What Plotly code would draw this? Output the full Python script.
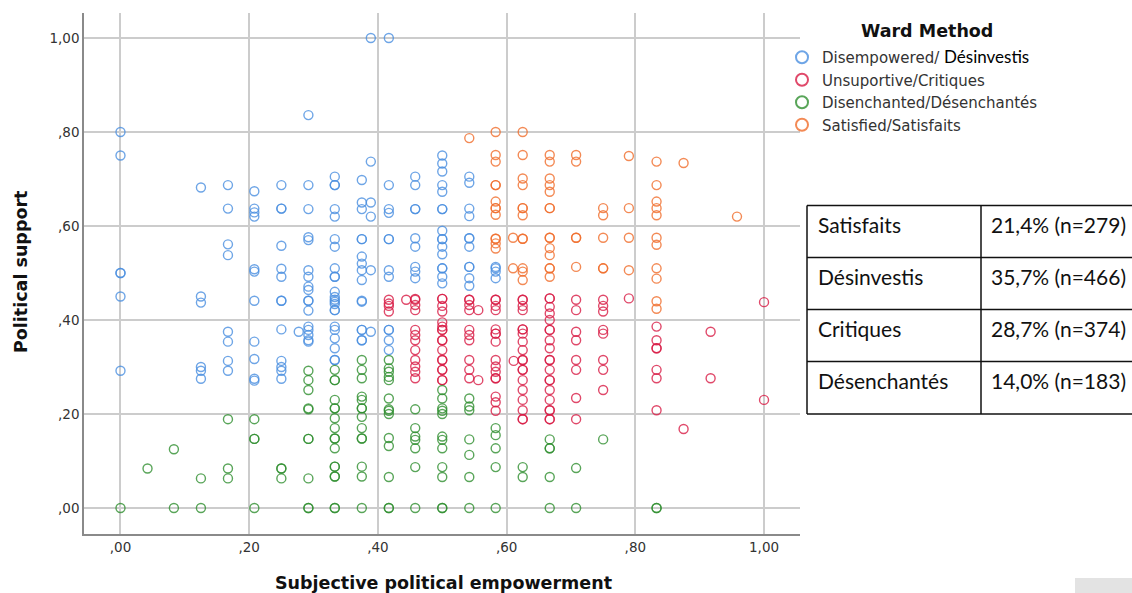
import plotly.graph_objects as go

# ---------------- data ----------------
cluster_names = ["Disempowered/ <span style=\"font-family:Lato;font-size:17px;color:#000\">Désinvestis</span>",
                 "Unsuportive/Critiques",
                 "Disenchanted/Désenchantés",
                 "Satisfied/Satisfaits"]
cluster_colors = ["#4a8fe0", "#d81b45", "#2f8f2f", "#f06d2a"]

blue_cols = [0.0, 0.125, 0.167, 0.208, 0.25, 0.277, 0.292, 0.333, 0.375, 0.389, 0.417, 0.458, 0.5, 0.542, 0.583]
blue_vals = [
    [0.80, 0.75, 0.50, 0.50, 0.45, 0.292],
    [0.682, 0.45, 0.437, 0.30, 0.292, 0.275],
    [0.687, 0.637, 0.561, 0.538, 0.375, 0.354, 0.313, 0.292],
    [0.674, 0.637, 0.629, 0.62, 0.508, 0.503, 0.441, 0.354, 0.317, 0.275, 0.271],
    [0.687, 0.637, 0.637, 0.558, 0.509, 0.492, 0.441, 0.441, 0.380, 0.313, 0.30, 0.292, 0.275],
    [0.375],
    [0.836, 0.687, 0.636, 0.576, 0.570, 0.506, 0.492, 0.471, 0.464, 0.441, 0.441, 0.42, 0.386, 0.379, 0.368, 0.357, 0.354],
    [0.705, 0.687, 0.687, 0.636, 0.620, 0.572, 0.556, 0.51, 0.492, 0.492, 0.46, 0.449, 0.443, 0.439, 0.434, 0.421,
     0.421, 0.386, 0.379, 0.361, 0.34, 0.315, 0.315],
    [0.698, 0.65, 0.636, 0.572, 0.572, 0.535, 0.52, 0.506, 0.485, 0.441, 0.439, 0.379, 0.379, 0.357, 0.357],
    [1.0, 0.737, 0.65, 0.62, 0.506, 0.375],
    [1.0, 0.687, 0.636, 0.628, 0.572, 0.572, 0.506, 0.492, 0.379, 0.379, 0.357, 0.336],
    [0.705, 0.687, 0.636, 0.636, 0.574, 0.556, 0.513, 0.503, 0.489],
    [0.75, 0.733, 0.716, 0.687, 0.673, 0.636, 0.636, 0.59, 0.572, 0.572, 0.556, 0.54, 0.51, 0.51, 0.492, 0.478],
    [0.705, 0.692, 0.637, 0.621, 0.574, 0.574, 0.556, 0.513, 0.513, 0.489, 0.473],
    [0.513, 0.51, 0.503, 0.489],
]

red_cols = [0.417, 0.444, 0.458, 0.5, 0.542, 0.556, 0.583, 0.611, 0.625, 0.667, 0.708, 0.75, 0.79, 0.833, 0.875, 0.917, 1.0]
red_vals = [
    [0.443, 0.435, 0.43, 0.418],
    [0.443],
    [0.445, 0.443, 0.432, 0.421, 0.379, 0.368, 0.357, 0.336, 0.315, 0.301, 0.29, 0.276],
    [0.445, 0.445, 0.43, 0.418, 0.395, 0.386, 0.379, 0.379, 0.357, 0.357, 0.336, 0.315, 0.315, 0.294, 0.294, 0.272, 0.272],
    [0.443, 0.443, 0.432, 0.421, 0.379, 0.368, 0.357, 0.315, 0.294, 0.276],
    [0.421, 0.272],
    [0.443, 0.443, 0.43, 0.421, 0.38, 0.371, 0.371, 0.354, 0.315, 0.301, 0.29, 0.276, 0.276, 0.237, 0.225, 0.207],
    [0.313],
    [0.443, 0.443, 0.43, 0.421, 0.38, 0.38, 0.371, 0.354, 0.336, 0.315, 0.315, 0.294, 0.294, 0.272, 0.251, 0.23,
     0.208, 0.189, 0.189],
    [0.446, 0.446, 0.428, 0.414, 0.4, 0.379, 0.379, 0.357, 0.34, 0.315, 0.315, 0.294, 0.272, 0.272, 0.251, 0.23,
     0.208, 0.208, 0.189, 0.189],
    [0.443, 0.421, 0.375, 0.357, 0.315, 0.294, 0.234, 0.189],
    [0.443, 0.43, 0.418, 0.379, 0.371, 0.315, 0.294, 0.251],
    [0.446],
    [0.386, 0.357, 0.34, 0.34, 0.294, 0.276, 0.208],
    [0.168],
    [0.375, 0.276],
    [0.438, 0.23],
]

green_cols = [0.0, 0.042, 0.083, 0.125, 0.167, 0.208, 0.25, 0.292, 0.333, 0.375, 0.417, 0.458, 0.5, 0.542,
              0.583, 0.625, 0.667, 0.708, 0.75, 0.833]
green_vals = [
    [0.0],
    [0.084],
    [0.125, 0.0],
    [0.063, 0.0],
    [0.189, 0.084, 0.063],
    [0.189, 0.147, 0.147, 0.0],
    [0.084, 0.084, 0.063],
    [0.292, 0.272, 0.251, 0.212, 0.21, 0.147, 0.147, 0.063, 0.0, 0.0],
    [0.294, 0.272, 0.272, 0.23, 0.212, 0.212, 0.191, 0.17, 0.148, 0.148, 0.127, 0.088, 0.088, 0.067, 0.067, 0.0, 0.0],
    [0.315, 0.294, 0.276, 0.237, 0.23, 0.212, 0.212, 0.194, 0.17, 0.148, 0.148, 0.088, 0.067, 0.0],
    [0.315, 0.297, 0.29, 0.279, 0.272, 0.233, 0.21, 0.207, 0.2, 0.149, 0.132, 0.066, 0.0, 0.0],
    [0.21, 0.17, 0.152, 0.145, 0.127, 0.087, 0.0],
    [0.251, 0.233, 0.212, 0.207, 0.2, 0.152, 0.145, 0.127, 0.087, 0.066, 0.0, 0.0],
    [0.233, 0.216, 0.208, 0.146, 0.113, 0.066, 0.0],
    [0.17, 0.155, 0.127, 0.087, 0.0],
    [0.087, 0.066],
    [0.146, 0.127, 0.127, 0.066, 0.0],
    [0.085, 0.0],
    [0.146],
    [0.0, 0.0],
]

orange_cols = [0.542, 0.583, 0.61, 0.625, 0.667, 0.708, 0.75, 0.79, 0.833, 0.875, 0.958]
orange_vals = [
    [0.787],
    [0.80, 0.751, 0.737, 0.687, 0.687, 0.652, 0.638, 0.638, 0.624, 0.573, 0.573, 0.563, 0.552],
    [0.575, 0.51],
    [0.80, 0.751, 0.701, 0.687, 0.638, 0.638, 0.623, 0.573, 0.573, 0.51, 0.503, 0.485],
    [0.751, 0.737, 0.701, 0.687, 0.673, 0.638, 0.638, 0.575, 0.575, 0.553, 0.538, 0.51, 0.51, 0.492],
    [0.751, 0.737, 0.575, 0.575, 0.513],
    [0.638, 0.623, 0.575, 0.51, 0.51],
    [0.749, 0.638, 0.575, 0.506],
    [0.737, 0.687, 0.652, 0.638, 0.623, 0.575, 0.56, 0.51, 0.488, 0.44, 0.424],
    [0.734],
    [0.62],
]

x_tickvals = [0.0, 0.2, 0.4, 0.6, 0.8, 1.0]
x_ticktext = [",00", ",20", ",40", ",60", ",80", "1,00"]
y_tickvals = [0.0, 0.2, 0.4, 0.6, 0.8, 1.0]
y_ticktext = [",00", ",20", ",40", ",60", ",80", "1,00"]

table_labels = ["Satisfaits", "Désinvestis", "Critiques", "Désenchantés"]
table_values = ["21,4% (n=279)", "35,7% (n=466)", "28,7% (n=374)", "14,0% (n=183)"]

x_title = "Subjective political empowerment"
y_title = "Political support"
legend_title = "Ward Method"

# ---------------- figure ----------------
W, H = 1132, 593


def px(x):
    return x / W


def py(y):
    return 1 - y / H


def expand(cols, vals):
    xs, ys = [], []
    for c, vs in zip(cols, vals):
        for v in vs:
            xs.append(c)
            ys.append(v)
    return xs, ys


fig = go.Figure()
for name, color, cols, vals in zip(cluster_names, cluster_colors,
                                   [blue_cols, red_cols, green_cols, orange_cols],
                                   [blue_vals, red_vals, green_vals, orange_vals]):
    xs, ys = expand(cols, vals)
    fig.add_trace(go.Scatter(
        x=xs, y=ys, mode="markers", name=name,
        marker=dict(symbol="circle-open", size=9, color=color, opacity=0.8,
                    line=dict(width=1.4, color=color)),
    ))

axis_font = dict(family="DejaVu Sans", size=13.5, color="#333333")
fig.update_xaxes(
    domain=[px(84), px(800)], range=[-0.0567, 1.0559],
    tickvals=x_tickvals, ticktext=x_ticktext, tickfont=axis_font,
    showgrid=True, gridcolor="#cccccc", gridwidth=1.6, zeroline=False,
    showline=True, linecolor="#8a8a8a", linewidth=1.6, ticks="", automargin=False,
)
fig.update_yaxes(
    domain=[1 - 534 / H, 1 - 13 / H], range=[-0.0553, 1.0532],
    tickvals=y_tickvals, ticktext=y_ticktext, tickfont=axis_font,
    showgrid=True, gridcolor="#cccccc", gridwidth=1.6, zeroline=False,
    showline=True, linecolor="#8a8a8a", linewidth=1.6, ticks="", automargin=False,
)

annotations = [
    dict(text=x_title, x=px(443), y=py(583), xref="paper", yref="paper", showarrow=False,
         xanchor="center", yanchor="middle",
         font=dict(family="DejaVu Sans", size=17.5, color="#111111", weight="bold")),
    dict(text=y_title, x=px(21), y=py(272), xref="paper", yref="paper", showarrow=False,
         textangle=-90, xanchor="center", yanchor="middle",
         font=dict(family="DejaVu Sans", size=17.5, color="#111111", weight="bold")),
    dict(text=legend_title, x=px(927), y=py(31), xref="paper", yref="paper", showarrow=False,
         xanchor="center", yanchor="middle",
         font=dict(family="DejaVu Sans", size=17.5, color="#111111", weight="bold")),
]

# table drawn with shapes + text
tx0, tx1, tx2 = 807, 981, 1140
row_edges = [205.5, 257.5, 309.5, 361.5, 414]
shapes = []
for ry in row_edges:
    shapes.append(dict(type="line", xref="paper", yref="paper", x0=px(tx0), x1=px(tx2),
                       y0=py(ry), y1=py(ry), line=dict(color="#111111", width=1.5)))
for vx in [tx0, tx1]:
    shapes.append(dict(type="line", xref="paper", yref="paper", x0=px(vx), x1=px(vx),
                       y0=py(row_edges[0]), y1=py(row_edges[-1]), line=dict(color="#111111", width=1.5)))
for i, (lab, val) in enumerate(zip(table_labels, table_values)):
    cy = row_edges[i] + 19
    annotations.append(dict(text=lab, x=px(816), y=py(cy), xref="paper", yref="paper", showarrow=False,
                            xanchor="left", yanchor="middle",
                            font=dict(family="Lato", size=21, color="#111111")))
    annotations.append(dict(text=val, x=px(989), y=py(cy), xref="paper", yref="paper", showarrow=False,
                            xanchor="left", yanchor="middle",
                            font=dict(family="Lato", size=21, color="#111111")))

# little grey box at bottom right
shapes.append(dict(type="rect", xref="paper", yref="paper", x0=px(1075), x1=px(1140),
                   y0=py(578), y1=py(600), fillcolor="#e3e3e3", line=dict(width=0)))

fig.update_layout(
    width=W, height=H,
    margin=dict(l=0, r=0, t=0, b=0),
    paper_bgcolor="white", plot_bgcolor="white",
    font=dict(family="DejaVu Sans", color="#333333"),
    showlegend=True,
    legend=dict(
        x=px(782), y=py(41), xanchor="left", yanchor="top",
        bgcolor="rgba(0,0,0,0)", borderwidth=0,
        font=dict(family="DejaVu Sans", size=15, color="#333333"),
        itemsizing="constant", tracegroupgap=0,
    ),
    annotations=annotations,
    shapes=shapes,
)

fig.write_html("out.html", config={"displayModeBar": False},
               post_script="document.body.style.margin='0px';document.body.style.padding='0px';"
                           "document.body.style.overflow='hidden';")
